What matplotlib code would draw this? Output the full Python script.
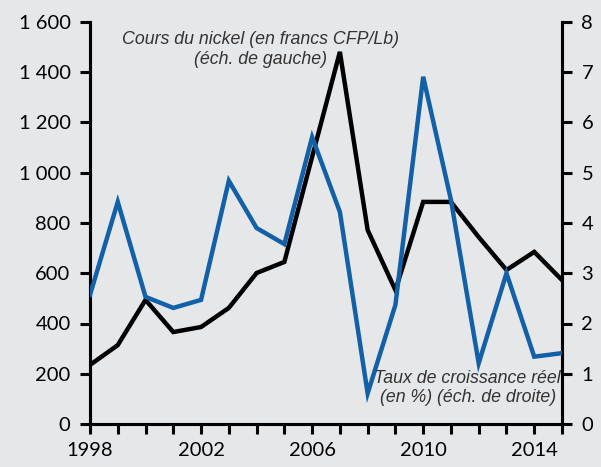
import numpy as np
import matplotlib.pyplot as plt
from matplotlib.ticker import FuncFormatter

# donnees
annees = np.arange(1998, 2016)
cours_nickel = [235, 314, 494, 366, 386, 462, 601, 645, 1063, 1481,
                772, 533, 884, 884, 744, 613, 685, 573]
croissance = [2.57, 4.42, 2.53, 2.31, 2.47, 4.84, 3.90, 3.58, 5.71, 4.22,
              0.61, 2.37, 6.91, 4.46, 1.21, 3.00, 1.34, 1.41]
annees_labels = [1998, 2002, 2006, 2010, 2014]

fond = '#e6e7e9'
bleu = '#1260a8'

plt.rcParams['font.family'] = ['Lato', 'DejaVu Sans']

fig = plt.figure(figsize=(6.01, 4.67), dpi=100, facecolor=fond)
ax = fig.add_axes([90/601, 43/467, 472/601, 402/467], facecolor=fond)
ax2 = ax.twinx()

ax.plot(annees, cours_nickel, color='black', lw=3.2, solid_joinstyle='miter', zorder=2)
ax2.plot(annees, croissance, color=bleu, lw=3.2, solid_joinstyle='miter', zorder=3)

ax.set_xlim(1998, 2015)
ax.set_ylim(0, 1600)
ax2.set_ylim(0, 8)
ax.set_yticks(np.arange(0, 1601, 200))
ax2.set_yticks(np.arange(0, 9, 1))
ax.yaxis.set_major_formatter(FuncFormatter(lambda v, p: f'{int(v):,}'.replace(',', ' ')))

ax.set_xticks(annees)
ax.set_xticklabels([str(a) if a in annees_labels else '' for a in annees])

for a in (ax, ax2):
    a.spines['top'].set_visible(False)
    for s in ('left', 'right', 'bottom'):
        a.spines[s].set_linewidth(2.2)
        a.spines[s].set_color('black')
    a.tick_params(axis='both', width=2.2, length=7, labelsize=14.5, colors='black', pad=6)
ax.tick_params(axis='y', pad=7)
ax2.tick_params(axis='y', pad=7)

txt = dict(ha='center', va='center', style='italic', fontsize=12.8, color='#333333',
           family=['Liberation Sans', 'DejaVu Sans'], linespacing=1.2, zorder=5)
ax.text(2004.15, 1490, 'Cours du nickel (en francs CFP/Lb)\n(éch. de gauche)', **txt)
ax2.text(2011.6, 0.72, 'Taux de croissance réel\n(en %) (éch. de droite)', **txt)

fig.savefig('out.png', dpi=100, facecolor=fond)
